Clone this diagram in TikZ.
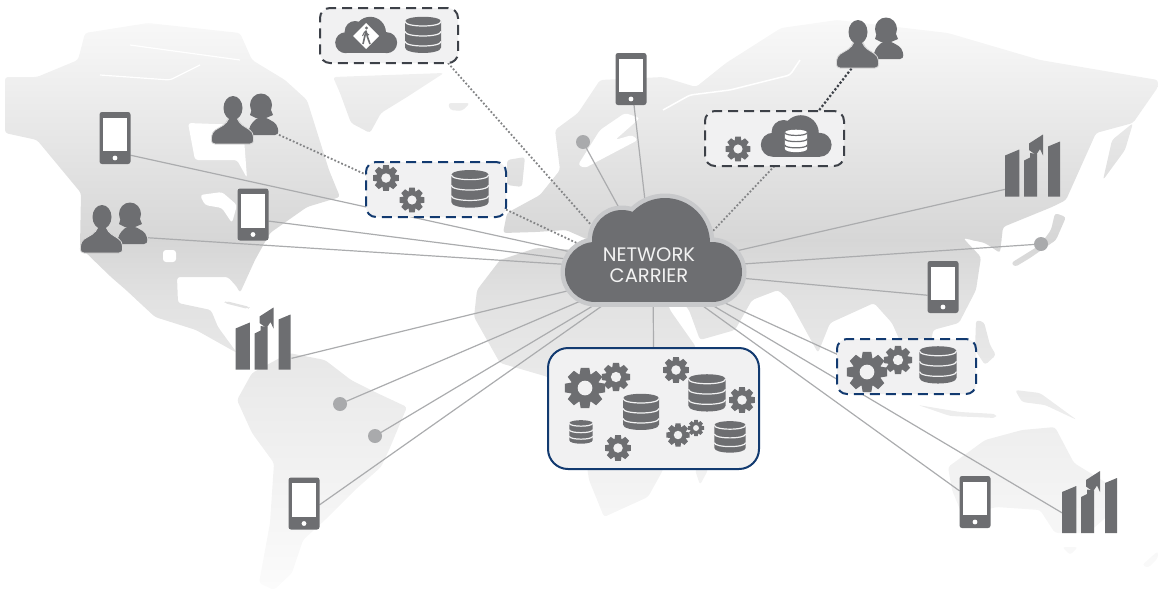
\documentclass[tikz,border=0pt]{standalone}
\usepackage{fontspec}
\setmainfont{Poppins}
\usetikzlibrary{backgrounds}
\definecolor{iconc}{HTML}{6D6E71}
\definecolor{boxbg}{HTML}{F1F1F2}
\definecolor{navy}{HTML}{123A70}
\definecolor{darkdash}{HTML}{3D4148}
\definecolor{wire}{HTML}{ABACAE}
\definecolor{halo}{HTML}{C8C9CB}
\definecolor{dotc}{HTML}{A9AAAC}
\definecolor{landa}{gray}{.985}
\definecolor{landb}{gray}{.95}
\definecolor{landc}{gray}{.84}
\definecolor{landd}{gray}{.885}
\definecolor{lande}{gray}{.925}
\tikzset{
  phonebox/.style={fill=iconc,rounded corners=2.5,minimum width=31,minimum height=52,inner sep=0,outer sep=0},
  peoplebox/.style={minimum width=68,minimum height=51,inner sep=0,outer sep=0},
  chartbox/.style={minimum width=56,minimum height=63,inner sep=0,outer sep=0},
  sitedot/.style={circle,fill=dotc,minimum size=14,inner sep=0,outer sep=0},
  dashnavy/.style={draw=navy,fill=boxbg,line width=2,dash pattern=on 10pt off 6pt,rounded corners=10,inner sep=0,outer sep=0},
  dashdark/.style={dashnavy,draw=darkdash},
  bigbox/.style={draw=navy,fill=boxbg,line width=2,rounded corners=20,inner sep=0,outer sep=0},
  carrier/.style={text=white!95!black,align=center,font=\fontsize{19.5}{21}\selectfont,inner sep=0},
  wireline/.style={draw=wire,line width=1.2},
  dotlight/.style={draw=iconc!85,line width=1.8,dash pattern=on 1.8pt off 2pt},
  dotdark/.style={draw=darkdash,line width=2.2,dash pattern=on 2.2pt off 2pt},
  cloudlook/.style={fill=iconc},
  dbfg/.style={fill=iconc},
  dbgap/.style={draw=boxbg},
  pics/phonepic/.style={code={
    \fill[white] (-12.3,-20.5) rectangle (12.3,13);
    \fill[white] (0,20) circle [radius=2.4];
  }},
  pics/gearpic/.style={code={
    \fill[iconc] (0,0) circle [radius=8.8];
    \foreach \a in {0,45,...,315}
      \fill[iconc,rotate=\a] (-3.4,-7) -- (-2.6,-12) -- (2.6,-12) -- (3.4,-7) -- cycle;
    \fill[boxbg] (0,0) circle [radius=4.4];
  }},
  pics/dbpic/.style={code={
    \path[dbfg] (-18,-13.5) .. controls (-18,-19.8) and (18,-19.8) .. (18,-13.5)
      -- (18,12.5) .. controls (18,19.8) and (-18,19.8) .. (-18,12.5) -- cycle;
    \foreach \yy in {-13.5,-3.5,6.5}
      \path[dbgap,line width=1.2] (-18,\yy) .. controls (-18,\yy+6) and (18,\yy+6) .. (18,\yy);
  }},
  pics/cloudpic/.style={code={
    \path[cloudlook] (-58,22) circle [radius=30];
    \path[cloudlook] (-31,-10) circle [radius=30];
    \path[cloudlook] (12,-7) circle [radius=45];
    \path[cloudlook] (59,22) circle [radius=30];
    \path[cloudlook] (-58,-8) rectangle (59,52);
  }},
  pics/peoplepic/.style={code={
    % woman behind
    \fill[iconc] (16,-14) ellipse [x radius=11,y radius=11.5];
    \fill[iconc] (5,-4) -- (8,-14) -- (24,-14) -- (28,-4) -- (21,-1) -- (11,-1) -- cycle;
    \fill[iconc,rounded corners=4] (3,16) -- (5,6) -- (13,-2) -- (20,-2) -- (32,5) -- (34,16) -- cycle;
    % man in front
    \path[fill=iconc,draw=white!85!black,line width=.8,rounded corners=4] (-34,25) -- (-33,13) -- (-18,4) -- (-17,-2)
      -- (-7,-2) -- (-6,4) -- (8,13) -- (9,25) -- cycle;
    \fill[iconc] (-12,-11) ellipse [x radius=9.5,y radius=12];
  }},
  pics/chartpic/.style={code={
    \fill[iconc] (-28,-9.5) -- (-13.7,-15.5) -- (-13.7,31.5) -- (-28,31.5) -- cycle;
    \fill[iconc] (-9,-4.5) -- (-3,-7.5) -- (-3,-12) -- (4,-11) -- (4,31.5) -- (-9,31.5) -- cycle;
    \fill[iconc] (15,-18.5) -- (27,-23.5) -- (27,31.5) -- (15,31.5) -- cycle;
    \fill[iconc] (-4,-21.5) -- (10,-30.5) -- (10,-9.5) -- (7,-16) -- (3,-10) -- (-4,-15) -- cycle;
  }},
  pics/walkerpic/.style={code={
    \fill[white] (0,-13) -- (13,0) -- (0,13) -- (-13,0) -- cycle;
    \fill[iconc] (.5,-8) circle [radius=1.7];
    \draw[iconc,line width=1.6,line join=round] (4,8) -- (1.5,1) -- (0,-5) -- (-3,8);
    \draw[iconc,line width=1] (-3.5,0) -- (-1.5,-4) -- (3,-1);
  }},
}
\begin{document}
\begin{tikzpicture}[x=1pt,y=-1pt]
\useasboundingbox (0,0) rectangle (1158,590);
% land
\begin{scope}[on background layer]
\begin{scope}[rounded corners=3]
\clip
  (5,133) -- (5,77) -- (37,77) -- (78,60) -- (85,33) -- (148,23) -- (240,33) -- (252,60) -- (285,80) -- (307,100)
    -- (329,170) -- (340,197) -- (307,207) -- (270,233) -- (255,260) -- (240,293) -- (237,287) -- (228,277) -- (177,277)
    -- (178,303) -- (211,310) -- (218,327) -- (237,353) -- (196,330) -- (155,317) -- (126,290) -- (111,277)
    -- (80,247) -- (81,193) -- (37,140) -- cycle
  (333,77) -- (444,73) -- (407,97) -- (381,113) -- (370,133) -- (351,123) -- (340,93) -- cycle
  (448,103) -- (470,103) -- (462,111) -- (450,110) -- cycle
  (226,301) -- (250,307) -- (248,309) -- (224,303) -- cycle
  (507,160) -- (525,157) -- (522,187) -- (507,185) -- cycle
  (578,113) -- (600,80) -- (663,77) -- (696,87) -- (726,63) -- (781,28) -- (837,20) -- (948,33) -- (1040,60)
    -- (1158,80) -- (1158,87) -- (1133,123) -- (1096,133) -- (1066,200) -- (1052,207) -- (1003,227) -- (1000,253)
    -- (985,243) -- (963,238) -- (981,257) -- (976,290) -- (959,323) -- (933,330) -- (929,360) -- (904,350) -- (892,323)
    -- (874,303) -- (830,323) -- (818,353) -- (789,300) -- (778,290) -- (752,300) -- (735,330) -- (700,340) -- (689,310)
    -- (672,290) -- (640,270) -- (600,245) -- (566,230) -- (536,232) -- (503,233) -- (507,213) -- (540,195) -- (560,170)
    -- (555,130) -- cycle
  (1103,180) -- (1112,140) -- (1133,123) -- (1125,150) -- cycle
  (477,290) -- (500,260) -- (536,248) -- (580,250) -- (640,262) -- (660,280) -- (670,310) -- (696,347) -- (672,400)
    -- (663,470) -- (648,497) -- (604,517) -- (589,480) -- (580,420) -- (548,377) -- (500,363) -- (474,317) -- cycle
  (695,470) -- (706,458) -- (708,470) -- (700,485) -- cycle
  (237,400) -- (252,373) -- (289,353) -- (325,360) -- (351,380) -- (377,393) -- (407,407) -- (389,450) -- (381,467)
    -- (355,490) -- (325,520) -- (303,540) -- (292,573) -- (274,590) -- (259,583) -- (270,523) -- (274,463) -- (252,433) -- cycle
  (948,467) -- (985,440) -- (1022,430) -- (1055,427) -- (1074,463) -- (1118,490) -- (1111,513) -- (1088,533) -- (1055,533)
    -- (1040,510) -- (996,507) -- (963,517) -- (952,490) -- cycle
  (1062,547) -- (1078,547) -- (1070,555) -- cycle
  (1142,565) -- (1158,551) -- (1158,558) -- (1148,568) -- cycle
  (1015,390) -- (1040,393) -- (1077,420) -- (1045,405) -- (1022,402) -- cycle
  (918,405) -- (960,412) -- (996,414) -- (996,418) -- (950,416) -- cycle
  (976,320) -- (984,322) -- (990,345) -- (996,355) -- (985,365) -- (975,350) -- cycle
  (1011,263) -- (1040,245) -- (1051,230) -- (1055,213) -- (1066,217) -- (1056,240) -- (1030,258) -- (1015,267) -- cycle;
\shade[top color=landa,bottom color=landb] (0,0) rectangle (1158,60.5);
\shade[top color=landb,bottom color=landc] (0,60) rectangle (1158,240.5);
\shade[top color=landc,bottom color=landd] (0,240) rectangle (1158,300.5);
\shade[top color=landd,bottom color=lande] (0,300) rectangle (1158,400.5);
\shade[top color=lande,bottom color=landa] (0,400) rectangle (1158,590);
\end{scope}
% lakes and seas
\begin{scope}[rounded corners=3]
\fill[white] (188,123) -- (243,125) -- (247,178) -- (237,160) -- (195,160) -- cycle;
\fill[white] (200,195) -- (222,192) -- (237,205) -- (232,223) -- (222,208) -- (205,205) -- cycle;
\fill[white] (163,250) rectangle (176,262);
\fill[white] (578,165) -- (600,130) -- (625,113) -- (640,118) -- (615,140) -- (632,135) -- (638,140) -- (600,160) -- (585,168) -- cycle;
\fill[white] (536,232) -- (566,232) -- (575,247) -- (540,247) -- cycle;
\draw[white,line width=1.5] (663,110) -- (690,95) -- (730,90) -- (790,75) -- (800,60);
\draw[white,line width=1.2] (100,75) -- (170,80) -- (200,65);
\draw[white,line width=1.2] (130,45) -- (240,60);
\end{scope}
\end{scope}
% end devices
\node[phonebox] (phoneA) at (115,138) {};
\node[phonebox] (phoneB) at (253,214.5) {};
\node[phonebox] (phoneC) at (631,79) {};
\node[phonebox] (phoneE) at (943,287) {};
\node[phonebox] (phoneF) at (975,502) {};
\node[phonebox] (phoneS) at (304,503.5) {};
\foreach \n in {phoneA,phoneB,phoneC,phoneE,phoneF,phoneS}
  \pic at (\n) {phonepic};
\node[peoplebox] (peopleW) at (114,228) {};
\node[peoplebox] (peopleN) at (245,119) {};
\node[peoplebox] (peopleE) at (870,43) {};
\foreach \n in {peopleW,peopleN,peopleE}
  \pic at (\n) {peoplepic};
\node[chartbox] (chartW) at (263.5,338) {};
\node[chartbox] (chartE) at (1033,165) {};
\node[chartbox] (chartS) at (1090,501.5) {};
\foreach \n in {chartW,chartE,chartS}
  \pic at (\n) {chartpic};
\node[sitedot] (dotN) at (583,142) {};
\node[sitedot] (dotE) at (1041,244) {};
\node[sitedot] (dotA) at (340,404) {};
\node[sitedot] (dotB) at (375,436) {};
% dashed groups
\node[dashdark,minimum width=138,minimum height=55] (boxA) at (389,35.5) {};
\node[dashnavy,minimum width=140,minimum height=55] (boxB) at (436,189.5) {};
\node[dashdark,minimum width=139,minimum height=55] (boxC) at (774.5,138.5) {};
\node[dashnavy,minimum width=139,minimum height=55] (boxD) at (906.5,366.5) {};
\node[bigbox,minimum width=211,minimum height=121] (boxBig) at (653.5,408.5) {};
\pic[scale=.35] at (366,35) {cloudpic};
\pic[scale=1] at (366,36) {walkerpic};
\pic at (423,35) {dbpic};
\pic[scale=1.08] at (386,178) {gearpic};
\pic[scale=1.04] at (412,200) {gearpic};
\pic[scale=1.04] at (470,189) {dbpic};
\pic[scale=1.04] at (738,149) {gearpic};
\pic[scale=.4] at (796,136) {cloudpic};
\pic[scale=.62,dbfg/.style={fill=white},dbgap/.style={draw=iconc}] at (796,141) {dbpic};
\pic[scale=1.67] at (867,372) {gearpic};
\pic[scale=1.17] at (898,360) {gearpic};
\pic[scale=1.03] at (938,365) {dbpic};
% gears and stores in the data centre
\pic[scale=1.67] at (585,388) {gearpic};
\pic[scale=1.17] at (616,377) {gearpic};
\pic at (641,412) {dbpic};
\pic[scale=.65] at (581,432) {dbpic};
\pic[scale=1.08] at (618,448) {gearpic};
\pic[scale=1.08] at (676,370) {gearpic};
\pic[scale=1.03] at (707,393) {dbpic};
\pic[scale=1.08] at (742,400) {gearpic};
\pic[scale=.96] at (678,435) {gearpic};
\pic[scale=.67] at (696,428) {gearpic};
\pic[scale=.87] at (730,437) {dbpic};
% carrier cloud
\pic[cloudlook/.style={fill=halo,draw=halo,line width=9}] at (653,250) {cloudpic};
\pic at (653,250) {cloudpic};
\node[carrier] (carrierText) at (649,265.5) {NETWORK\\CARRIER};
\coordinate (hub) at (653,270);
\coordinate (inA) at (600,235);
\coordinate (inB) at (600,254);
\coordinate (inC) at (695,250);
% connectors, under everything else
\begin{scope}[on background layer]
\draw[wireline] (phoneA.-48) -- (hub);
\draw[wireline] (phoneB.-23) -- (hub);
\draw[wireline] (peopleW.-16) -- (hub);
\draw[wireline] (chartW.-36) -- (hub);
\draw[wireline] (dotA) -- (hub);
\draw[wireline] (dotB) -- (hub);
\draw[wireline] (phoneS.-5.5) -- (hub);
\draw[wireline] (dotN) -- (hub);
\draw[wireline] (phoneC) -- (hub);
\draw[wireline] (chartE.221.8) -- (hub);
\draw[wireline] (dotE) -- (hub);
\draw[wireline] (phoneE.208) -- (hub);
\draw[wireline] (boxD.170.6) -- (hub);
\draw[wireline] (chartS.202) -- (hub);
\draw[wireline] (phoneF) -- (hub);
\draw[wireline] (boxBig.north) -- (hub);
\draw[dotlight] (boxA.-25) -- (inA);
\draw[dotlight] (boxB.-16) -- (inB);
\draw[dotlight] (boxC.south) -- (inC);
\draw[dotlight] (peopleN.-25) -- (boxB.168);
\draw[dotdark] (peopleE.-126) -- (boxC.32.3);
\end{scope}
\end{tikzpicture}
\end{document}
